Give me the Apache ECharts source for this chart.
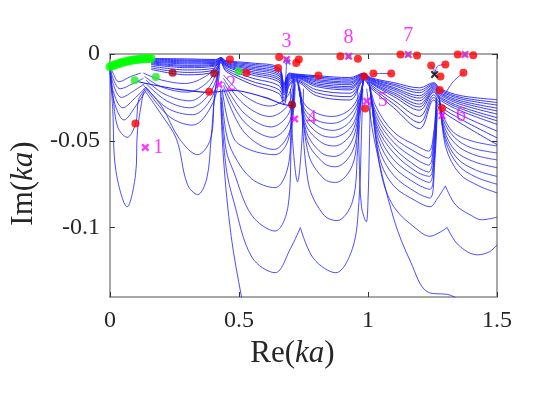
<!DOCTYPE html>
<html><head><meta charset="utf-8">
<script src="https://cdn.jsdelivr.net/npm/echarts@6/dist/echarts.min.js"></script>
<style>html,body{margin:0;padding:0;background:#fff}#c{width:545px;height:398px}</style>
</head><body><div id="c"></div>
<script>
// ---------- tick labels ----------
const xTicks = [0, 0.5, 1, 1.5];
const yTicks = [0, -0.05, -0.1];

// ---------- dense upper band of loci ----------
const bandX = [0.16,0.3,0.41,0.43,0.45,0.55,0.655,0.675,0.695,0.72,0.8,0.93,0.985,1.01,1.1,1.2,1.255,1.28,1.36,1.5];
const band1 = [-0.0026,-0.0028,-0.0032,-0.0020,-0.0038,-0.0052,-0.0078,-0.0170,-0.0110,-0.0115,-0.0125,-0.0136,-0.0110,-0.0136,-0.0165,-0.0195,-0.0165,-0.0200,-0.0240,-0.0263];
const band1b = [-0.0030,-0.0034,-0.0036,-0.0022,-0.0042,-0.0059,-0.0087,-0.0177,-0.0114,-0.0118,-0.0132,-0.0144,-0.0112,-0.0140,-0.0174,-0.0209,-0.0171,-0.0207,-0.0250,-0.0279];
const band2 = [-0.0034,-0.0039,-0.0040,-0.0024,-0.0045,-0.0067,-0.0096,-0.0185,-0.0118,-0.0120,-0.0139,-0.0151,-0.0115,-0.0143,-0.0182,-0.0223,-0.0177,-0.0214,-0.0259,-0.0294];
const band2b = [-0.0038,-0.0045,-0.0045,-0.0026,-0.0050,-0.0075,-0.0107,-0.0193,-0.0123,-0.0124,-0.0147,-0.0161,-0.0118,-0.0147,-0.0193,-0.0240,-0.0184,-0.0223,-0.0270,-0.0312];
const band3 = [-0.0042,-0.0051,-0.0049,-0.0028,-0.0054,-0.0083,-0.0116,-0.0200,-0.0128,-0.0126,-0.0154,-0.0168,-0.0120,-0.0151,-0.0201,-0.0254,-0.0190,-0.0230,-0.0280,-0.0328];
const band3b = [-0.0046,-0.0057,-0.0054,-0.0030,-0.0058,-0.0091,-0.0126,-0.0209,-0.0132,-0.0129,-0.0162,-0.0177,-0.0123,-0.0155,-0.0211,-0.0270,-0.0197,-0.0238,-0.0291,-0.0346];
const band4 = [-0.0051,-0.0065,-0.0059,-0.0032,-0.0063,-0.0101,-0.0138,-0.0218,-0.0138,-0.0133,-0.0171,-0.0188,-0.0126,-0.0160,-0.0223,-0.0289,-0.0205,-0.0248,-0.0304,-0.0367];
const band4b = [-0.0056,-0.0071,-0.0064,-0.0034,-0.0067,-0.0110,-0.0149,-0.0227,-0.0143,-0.0136,-0.0179,-0.0197,-0.0129,-0.0164,-0.0233,-0.0305,-0.0212,-0.0256,-0.0315,-0.0385];
const band5 = [-0.0061,-0.0079,-0.0069,-0.0037,-0.0072,-0.0120,-0.0161,-0.0237,-0.0149,-0.0140,-0.0188,-0.0207,-0.0132,-0.0168,-0.0245,-0.0324,-0.0220,-0.0266,-0.0328,-0.0405];
const band6 = [-0.0070,-0.0092,-0.0080,-0.0041,-0.0081,-0.0138,-0.0183,-0.0255,-0.0159,-0.0147,-0.0206,-0.0226,-0.0138,-0.0177,-0.0267,-0.0360,-0.0235,-0.0284,-0.0352,-0.0444];
const band7 = [-0.0080,-0.0106,-0.0090,-0.0046,-0.0091,-0.0157,-0.0206,-0.0273,-0.0170,-0.0153,-0.0223,-0.0246,-0.0144,-0.0186,-0.0288,-0.0395,-0.0250,-0.0302,-0.0376,-0.0483];
const band8 = [-0.0089,-0.0120,-0.0100,-0.0050,-0.0100,-0.0175,-0.0228,-0.0291,-0.0180,-0.0160,-0.0240,-0.0265,-0.0150,-0.0195,-0.0310,-0.0430,-0.0265,-0.0320,-0.0400,-0.0522];

// ---------- arches, segment by segment ----------
const archesA = [
  [[0,-0.0062],[0.012,-0.011],[0.035,-0.016],[0.08,-0.013],[0.12,-0.011]],
  [[0,-0.0064],[0.012,-0.014],[0.04,-0.020],[0.09,-0.017],[0.13,-0.014]],
  [[0,-0.0066],[0.012,-0.017],[0.045,-0.025],[0.095,-0.021],[0.135,-0.017]],
  [[0,-0.0068],[0.012,-0.021],[0.05,-0.031],[0.1,-0.025],[0.14,-0.019]],
  [[0,-0.007],[0.012,-0.025],[0.055,-0.038],[0.1,-0.030],[0.14,-0.021]],
  [[0,-0.007],[0.012,-0.024],[0.03,-0.042],[0.067,-0.048],[0.1,-0.040],[0.112,-0.026],[0.14,-0.02]],
  [[0,-0.0072],[0.011,-0.032],[0.023,-0.067],[0.067,-0.088],[0.099,-0.070],[0.107,-0.044],[0.13,-0.022]]
];
const archesB = [
  [[0.13,-0.011],[0.2,-0.015],[0.29,-0.017],[0.38,-0.012],[0.425,-0.004]],
  [[0.135,-0.013],[0.2,-0.019],[0.3,-0.022],[0.38,-0.016],[0.425,-0.005]],
  [[0.14,-0.015],[0.21,-0.023],[0.31,-0.027],[0.385,-0.019],[0.425,-0.006]],
  [[0.14,-0.017],[0.22,-0.027],[0.31,-0.031],[0.39,-0.022],[0.425,-0.007]],
  [[0.14,-0.019],[0.22,-0.031],[0.32,-0.035],[0.395,-0.025],[0.425,-0.008]],
  [[0.14,-0.020],[0.23,-0.036],[0.32,-0.041],[0.4,-0.028],[0.425,-0.01]],
  [[0.13,-0.018],[0.2,-0.03],[0.27,-0.049],[0.34,-0.058],[0.39,-0.049],[0.405,-0.025],[0.42,-0.01]],
  [[0.13,-0.02],[0.2,-0.035],[0.258,-0.049],[0.3,-0.075],[0.34,-0.081],[0.375,-0.072],[0.392,-0.049],[0.405,-0.025],[0.42,-0.01]]
];
const archesC = [
  [[0.44,-0.012],[0.52,-0.024],[0.62,-0.030],[0.69,-0.024],[0.71,-0.013]],
  [[0.44,-0.014],[0.52,-0.029],[0.62,-0.036],[0.692,-0.029],[0.712,-0.014]],
  [[0.44,-0.016],[0.52,-0.034],[0.625,-0.042],[0.694,-0.034],[0.714,-0.015]],
  [[0.44,-0.018],[0.52,-0.039],[0.63,-0.048],[0.696,-0.039],[0.716,-0.016]],
  [[0.44,-0.020],[0.52,-0.045],[0.635,-0.055],[0.698,-0.044],[0.718,-0.017]],
  [[0.435,-0.02],[0.46,-0.04],[0.5,-0.052],[0.64,-0.058],[0.69,-0.05],[0.705,-0.03],[0.715,-0.018]],
  [[0.433,-0.022],[0.45,-0.045],[0.48,-0.058],[0.55,-0.072],[0.64,-0.077],[0.69,-0.065],[0.703,-0.04],[0.713,-0.02]],
  [[0.432,-0.025],[0.45,-0.055],[0.48,-0.068],[0.55,-0.093],[0.64,-0.102],[0.69,-0.088],[0.703,-0.05],[0.713,-0.022]],
  [[0.43,-0.028],[0.45,-0.065],[0.48,-0.085],[0.55,-0.117],[0.64,-0.126],[0.7,-0.112],[0.738,-0.100]],
  [[0.428,-0.02],[0.44,-0.06],[0.47,-0.105],[0.51,-0.14],[0.55,-0.17]]
];
const archesD = [
  [[0.725,-0.014],[0.75,-0.028],[0.8,-0.034],[0.86,-0.036],[0.93,-0.032],[0.97,-0.022],[0.985,-0.012]],
  [[0.727,-0.015],[0.752,-0.031],[0.8,-0.038],[0.86,-0.040],[0.93,-0.035],[0.97,-0.024],[0.985,-0.012]],
  [[0.729,-0.016],[0.755,-0.034],[0.81,-0.042],[0.865,-0.044],[0.93,-0.039],[0.968,-0.026],[0.984,-0.013]],
  [[0.731,-0.017],[0.757,-0.037],[0.81,-0.046],[0.865,-0.048],[0.935,-0.042],[0.968,-0.028],[0.984,-0.013]],
  [[0.733,-0.018],[0.76,-0.041],[0.82,-0.051],[0.87,-0.053],[0.935,-0.046],[0.966,-0.030],[0.983,-0.014]],
  [[0.735,-0.019],[0.762,-0.045],[0.82,-0.057],[0.87,-0.059],[0.935,-0.051],[0.965,-0.033],[0.983,-0.014]],
  [[0.737,-0.02],[0.765,-0.05],[0.83,-0.063],[0.875,-0.065],[0.94,-0.056],[0.964,-0.036],[0.982,-0.015]],
  [[0.74,-0.022],[0.77,-0.058],[0.83,-0.072],[0.875,-0.074],[0.94,-0.064],[0.962,-0.04],[0.98,-0.016]],
  [[0.742,-0.025],[0.77,-0.075],[0.83,-0.093],[0.88,-0.096],[0.94,-0.085],[0.96,-0.055],[0.978,-0.018]],
  [[0.738,-0.100],[0.79,-0.118],[0.875,-0.126],[0.94,-0.112],[0.965,-0.085],[0.975,-0.045],[0.98,-0.02]]
];
const archesE = [
  [[1.005,-0.016],[1.03,-0.03],[1.1,-0.045],[1.19,-0.053],[1.235,-0.056],[1.255,-0.045],[1.265,-0.025]],
  [[1.005,-0.017],[1.03,-0.033],[1.1,-0.048],[1.19,-0.057],[1.235,-0.060],[1.255,-0.048],[1.265,-0.026]],
  [[1.006,-0.018],[1.032,-0.036],[1.1,-0.051],[1.19,-0.061],[1.235,-0.064],[1.256,-0.05],[1.266,-0.027]],
  [[1.007,-0.019],[1.034,-0.039],[1.1,-0.054],[1.19,-0.065],[1.235,-0.068],[1.256,-0.053],[1.266,-0.028]],
  [[1.008,-0.02],[1.036,-0.042],[1.1,-0.057],[1.19,-0.068],[1.238,-0.0705],[1.257,-0.056],[1.267,-0.03]],
  [[1.009,-0.021],[1.038,-0.045],[1.1,-0.061],[1.19,-0.071],[1.238,-0.074],[1.257,-0.058],[1.267,-0.031]],
  [[1.01,-0.022],[1.04,-0.049],[1.1,-0.065],[1.19,-0.075],[1.24,-0.078],[1.258,-0.06],[1.268,-0.032]],
  [[1.012,-0.024],[1.042,-0.054],[1.1,-0.07],[1.19,-0.080],[1.24,-0.083],[1.258,-0.064],[1.268,-0.034]],
  [[1.014,-0.026],[1.045,-0.06],[1.1,-0.076],[1.19,-0.085],[1.24,-0.088],[1.27,-0.083],[1.30,-0.076]],
  [[1.016,-0.028],[1.05,-0.068],[1.1,-0.088],[1.19,-0.101],[1.24,-0.105],[1.275,-0.103],[1.307,-0.100]],
  [[0.995,-0.02],[1.024,-0.049],[1.1,-0.095],[1.166,-0.12],[1.23,-0.137],[1.32,-0.139],[1.38,-0.145]]
];
const archesF = [
  [[1.275,-0.024],[1.29,-0.035],[1.33,-0.045],[1.4,-0.05],[1.5,-0.053]],
  [[1.276,-0.025],[1.292,-0.038],[1.335,-0.048],[1.4,-0.054],[1.5,-0.057]],
  [[1.277,-0.026],[1.294,-0.041],[1.34,-0.052],[1.41,-0.058],[1.5,-0.061]],
  [[1.278,-0.027],[1.296,-0.044],[1.34,-0.056],[1.41,-0.062],[1.5,-0.0655]],
  [[1.279,-0.028],[1.298,-0.047],[1.345,-0.06],[1.42,-0.067],[1.5,-0.0705]],
  [[1.28,-0.029],[1.3,-0.05],[1.35,-0.064],[1.42,-0.071],[1.5,-0.075]],
  [[1.281,-0.03],[1.302,-0.054],[1.355,-0.069],[1.43,-0.076],[1.5,-0.080]],
  [[1.30,-0.076],[1.34,-0.087],[1.4,-0.093],[1.44,-0.0955],[1.5,-0.094]],
  [[1.307,-0.100],[1.35,-0.11],[1.424,-0.1157],[1.47,-0.114],[1.5,-0.110]]
];
const narrowDips = [
  [[0.7,-0.02],[0.708,-0.05],[0.727,-0.0736],[0.744,-0.05],[0.75,-0.02]],
  [[0.96,-0.02],[0.966,-0.06],[0.975,-0.088],[0.9935,-0.0967],[1.0,-0.085],[1.006,-0.05],[1.01,-0.02]]
];
const crossLine = [[0.11,-0.016],[0.25,-0.02],[0.385,-0.022],[0.48,-0.021],[0.6,-0.025],[0.67,-0.029],[0.72,-0.03]];
const tails = [
  [[1.09,-0.0113],[1.05,-0.0112],[1.02,-0.0115]],
  [[1.37,-0.0108],[1.33,-0.016],[1.295,-0.024]],
  [[0.808,-0.0124],[0.77,-0.0128],[0.74,-0.013]],
  [[0.684,-0.0032],[0.683,-0.01],[0.678,-0.018]],
  [[1.3,-0.0061],[1.27,-0.007],[1.258,-0.012]],
  [[1.245,-0.0066],[1.255,-0.009],[1.258,-0.012]]
];

// ---------- markers ----------
const greenTrail = [[0.0,-0.0074],[0.01,-0.0068],[0.02,-0.0062],[0.03,-0.0057],[0.04,-0.0052],[0.05,-0.0048],[0.06,-0.0044],[0.07,-0.0041],[0.08,-0.0038],[0.09,-0.0035],[0.1,-0.0033],[0.11,-0.0031],[0.12,-0.0029],[0.13,-0.0028],[0.14,-0.0027],[0.15,-0.0026],[0.16,-0.0026]];
const greenDots = [[0.096,-0.0151],[0.178,-0.0132],[0.499,-0.0099]];
const greenUnder = [[0.684,-0.0032],[0.925,-0.0013],[1.156,-0.0003],[1.376,-0.0003]];
const redDots = [[0.099,-0.0401],[0.385,-0.0218],[0.465,-0.0032],[0.529,-0.0108],
  [0.656,-0.0018],[0.732,-0.0032],[0.722,-0.0052],[0.652,-0.0080],
  [0.808,-0.0124],[0.893,-0.0013],[0.961,-0.0028],
  [0.985,-0.0130],[1.021,-0.0113],[1.090,-0.0113],[0.989,-0.0314],
  [1.126,-0.0003],[1.190,-0.0009],[1.245,-0.0066],[1.300,-0.0061],[1.281,-0.0130],[1.370,-0.0108],[1.278,-0.0207],[1.287,-0.0312],
  [1.348,-0.0003],[1.408,-0.0007]];
const darkRedDots = [[0.243,-0.0108],[0.404,-0.0113],[0.706,-0.0293]];
const markNames = ['1','2','3','4','5','6','7','8',''];
const markX = [0.137,0.423,0.684,0.716,0.995,1.287,1.156,0.925,1.376];
const markY = [-0.0538,-0.0176,-0.0032,-0.0374,-0.0272,-0.0355,-0.0003,-0.0013,-0.0003];
const blackX = [[1.258,-0.0118]];
const blueX = [[0.69,-0.0046]];

// ---------- build ----------
const SERIF = 'Liberation Serif';
const BLUE = '#1f1fff';
const XPATH = 'path://M0,2L2,0L5,3L8,0L10,2L7,5L10,8L8,10L5,7L2,10L0,8L3,5Z';
const labelPlace = {'1':['right',4],'2':['right',3],'3':['top',4],'4':['right',8],'5':['right',7],'6':['right',10],'7':['top',5],'8':['top',5]};

function curve(pts, width) {
  return {type:'line', data:pts, smooth:0.35, showSymbol:false, symbol:'none', silent:true,
    animation:false, lineStyle:{color:BLUE, width:width||0.8}, z:2};
}
const series = [];
[band1,band1b,band2,band2b,band3,band3b,band4,band4b,band5,band6,band7,band8]
  .forEach(b => series.push(curve(bandX.map((x,i)=>[x,b[i]]), 0.9)));
[archesA,archesB,archesC,archesD,archesE,archesF,narrowDips,tails].forEach(g => g.forEach(p => series.push(curve(p))));
series.push(curve(crossLine, 1.1));

function dots(data, color, size, sym, z) {
  return {type:'scatter', data:data, symbol:sym||'circle', symbolSize:size, clip:false, silent:true,
    animation:false, itemStyle:{color:color}, z:z||5};
}
series.push(dots(greenTrail, '#00ff00', 9, 'circle', 4));
series.push(dots(greenDots, '#22ee22', 8, 'circle', 4));
series.push(dots(darkRedDots, '#b00010', 8, 'circle', 3));
series.push(dots(redDots, '#ff0000', 8, 'circle', 5));
series.push(dots(greenUnder, '#33dd33', 6, 'circle', 6));
series.push(dots(blackX, '#000000', 8, XPATH, 7));
series.push(dots(blueX, '#5050ff', 6, XPATH, 7));
series.push({type:'scatter', clip:false, silent:true, animation:false, z:8,
  symbol:XPATH, symbolSize:8, itemStyle:{color:'#ff00ff'},
  data: markX.map((x,i) => {
    const lp = labelPlace[markNames[i]];
    return {name:markNames[i], value:[x, markY[i]],
      label: lp ? {show:true, position:lp[0], distance:lp[1]} : {show:false}};
  }),
  label:{show:true, formatter:'{b}', color:'#ff00ff', fontFamily:SERIF, fontSize:20}
});

const richName = {
  n:{fontFamily:SERIF, fontSize:31, color:'#262626'},
  i:{fontFamily:SERIF, fontSize:31, fontStyle:'italic', color:'#262626'}
};
const lineCol = '#8a8a8a';
const option = {
  backgroundColor:'#ffffff',
  animation:false,
  grid:{left:104, right:48, top:54, bottom:101, containLabel:false},
  xAxis:[{
    type:'value', min:0, max:1.5, position:'bottom',
    axisLine:{show:true, onZero:false, lineStyle:{color:lineCol, width:1.5}},
    axisTick:{show:true, inside:true, length:5, customValues:xTicks, lineStyle:{color:'#333'}},
    axisLabel:{show:true, customValues:xTicks, margin:12, fontFamily:SERIF, fontSize:24, color:'#262626',
      formatter:v => String(v)},
    splitLine:{show:false},
    name:'{n|Re(}{i|ka}{n|)}', nameLocation:'middle', nameGap:18,
    nameTextStyle:{fontFamily:SERIF, fontSize:31, rich:richName, padding:[0,22,0,0]}
  },{
    type:'value', min:0, max:1.5, position:'top',
    axisLine:{show:true, onZero:false, lineStyle:{color:lineCol, width:1.5}},
    axisTick:{show:true, inside:true, length:5, customValues:xTicks, lineStyle:{color:'#333'}},
    axisLabel:{show:false}, splitLine:{show:false}
  }],
  yAxis:[{
    type:'value', min:-0.14, max:0, position:'left',
    axisLine:{show:true, onZero:false, lineStyle:{color:lineCol, width:1.5}},
    axisTick:{show:true, inside:true, length:5, customValues:yTicks, lineStyle:{color:'#333'}},
    axisLabel:{show:true, customValues:yTicks, margin:10, fontFamily:SERIF, fontSize:24, color:'#262626',
      formatter:v => String(v)},
    splitLine:{show:false},
    name:'{n|Im(}{i|ka}{n|)}', nameLocation:'middle', nameGap:56,
    nameTextStyle:{fontFamily:SERIF, fontSize:31, rich:richName, padding:[0,16,0,0]}
  },{
    type:'value', min:-0.14, max:0, position:'right',
    axisLine:{show:true, onZero:false, lineStyle:{color:lineCol, width:1.5}},
    axisTick:{show:true, inside:true, length:5, customValues:yTicks, lineStyle:{color:'#333'}},
    axisLabel:{show:false}, splitLine:{show:false}
  }],
  series: series
};
const chart = echarts.init(document.getElementById('c'), null, {renderer:'canvas'});
chart.setOption(option);
</script></body></html>
